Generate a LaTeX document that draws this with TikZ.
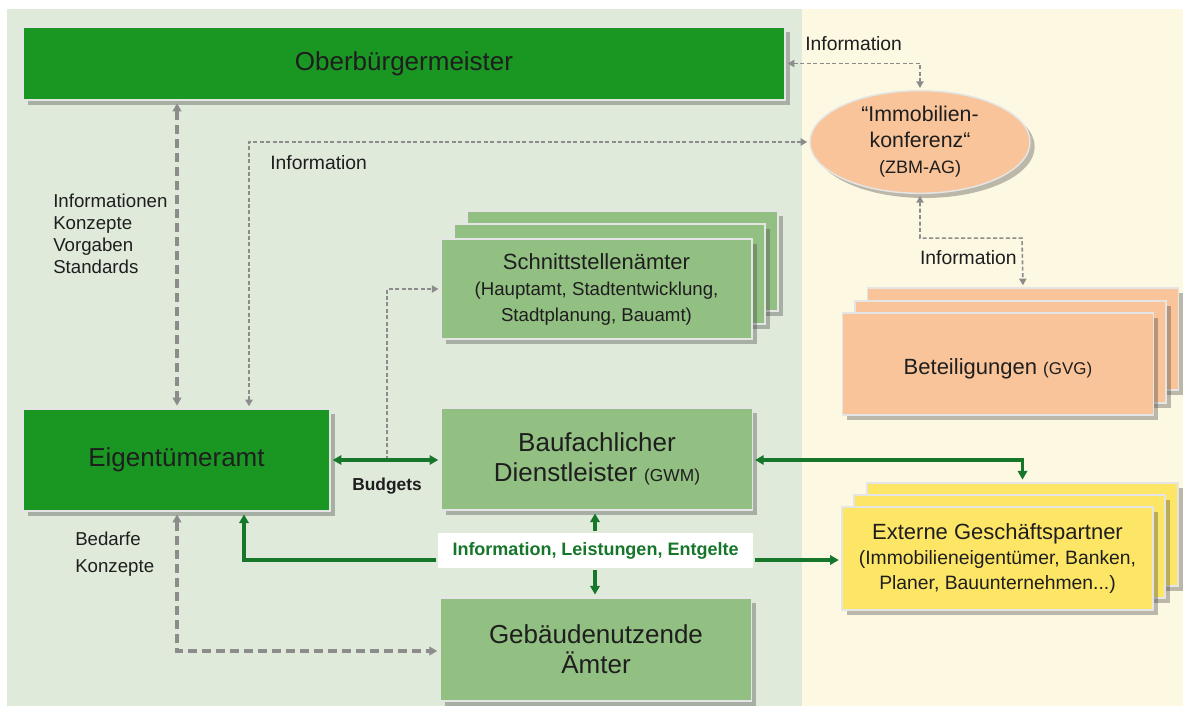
\documentclass[tikz,border=0pt]{standalone}
\usepackage{fontspec}
\setmainfont{Liberation Sans}
\usetikzlibrary{arrows.meta,shadows,shapes.geometric}
\definecolor{bgg}{RGB}{223,234,218}
\definecolor{bgc}{RGB}{253,248,226}
\definecolor{dkg}{RGB}{26,150,34}
\definecolor{ltg}{RGB}{146,191,130}
\definecolor{sal}{RGB}{249,196,153}
\definecolor{yel}{RGB}{253,230,102}
\definecolor{arg}{RGB}{22,118,42}
\definecolor{dgr}{RGB}{140,140,140}
\definecolor{txt}{RGB}{30,30,30}
\newcommand\fbig{\fontsize{19.5}{22.5}\selectfont}
\newcommand\fmid{\fontsize{16.5}{19}\selectfont}
\newcommand\fsub{\fontsize{14}{17}\selectfont}
\newcommand\flab{\fontsize{14}{16.5}\selectfont}
\begin{document}
\begin{tikzpicture}[x=0.75pt,y=-0.75pt,
  box/.style={draw=white!90!black, line width=1.1pt, inner sep=0pt, text=txt, align=center,
     drop shadow={shadow xshift=3.5pt, shadow yshift=-3.5pt, opacity=0.35, fill=black!75}},
  dbox/.style={box, fill=dkg},
  lbox/.style={box, fill=ltg},
  sbox/.style={box, fill=sal},
  ybox/.style={box, fill=yel},
  wide/.style={minimum width=233pt, minimum height=76.5pt},
  thickdash/.style={draw=dgr, line width=3pt, dash pattern=on 7pt off 3.5pt,
     shorten <=2pt, shorten >=2pt},
  thindash/.style={draw=dgr, line width=1.2pt, dash pattern=on 3pt off 1.8pt,
     shorten <=1.5pt, shorten >=1.5pt},
  garrow/.style={draw=arg, line width=2.3pt, shorten <=1.5pt, shorten >=2pt},
  gtip/.style={-{Triangle[length=6.5pt,width=7pt]}},
  gtips/.style={{Triangle[length=6.5pt,width=7pt]}-{Triangle[length=6.5pt,width=7pt]}},
  ttips/.style={{Triangle[length=6pt,width=6.5pt]}-{Triangle[length=6pt,width=6.5pt]}},
  stip/.style={-{Triangle[length=5pt,width=5.5pt]}},
  stips/.style={{Triangle[length=5pt,width=5.5pt]}-{Triangle[length=5pt,width=5.5pt]}},
  lab/.style={text=txt, inner sep=0pt, align=left}
]
\useasboundingbox (0,0) rectangle (1190,713);
\fill[white] (0,0) rectangle (1190,713);
\fill[bgg] (7,9) rectangle (802,706);
\fill[bgc] (802,9) rectangle (1183,706);

% helper x / y positions
\coordinate (x177) at (177,0);
\coordinate (x249) at (249,0);
\coordinate (x387) at (387,0);
\coordinate (x244) at (244,0);
\coordinate (x595) at (595,0);
\coordinate (y560) at (0,560);
\coordinate (y651) at (0,651);

% main boxes
\node[dbox, minimum width=571.5pt, minimum height=54.75pt, font=\fbig] (OB) at (404,63.5) {Oberbürgermeister};
\node[dbox, minimum width=230.25pt, minimum height=76.5pt, font=\fbig] (Eig) at (176.5,460) {Eigentümeramt};
\node[lbox, wide, font=\fbig] (Bau) at (597,459) {Baufachlicher\\Dienstleister {\fontsize{13}{15}\selectfont(GWM)}};
\node[lbox, wide, minimum height=77.25pt, font=\fbig] (Geb) at (596,649.5) {Gebäudenutzende\\Ämter};

% Schnittstellenämter stack
\node[lbox, wide, minimum height=75pt] (sch3) at (622.5,261) {};
\node[lbox, wide, minimum height=75pt] (sch2) at (609.5,274) {};
\node[lbox, wide, minimum height=75pt, font=\fmid] (sch1) at (596.5,289) {Schnittstellenämter\\[1pt]
  \fsub (Hauptamt, Stadtentwicklung,\\ \fsub Stadtplanung, Bauamt)};

% Beteiligungen stack
\node[sbox, wide] (bet3) at (1023,339) {};
\node[sbox, wide] (bet2) at (1010.5,352) {};
\node[sbox, wide, font=\fmid, text height=20pt, text depth=4pt] (bet1) at (998,364) {Beteiligungen {\fontsize{12.75}{15}\selectfont(GVG)}};

% Externe stack
\node[ybox, wide, minimum height=77.25pt] (ext3) at (1022.5,534.5) {};
\node[ybox, wide, minimum height=77.25pt] (ext2) at (1009.5,546.5) {};
\node[ybox, wide, minimum height=77.25pt, font=\fmid] (ext1) at (997.5,558.5) {Externe Geschäftspartner\\
  \fontsize{14.5}{17.5}\selectfont (Immobilieneigentümer, Banken,\\ \fontsize{14.5}{17.5}\selectfont Planer, Bauunternehmen...)};

% ellipse
\node[ellipse, fill=sal, draw=white!90!black, line width=1.1pt, minimum width=165pt, minimum height=77pt,
  inner sep=0pt, align=center, text=txt,
  drop shadow={shadow xshift=3.5pt, shadow yshift=-3.5pt, opacity=0.35, fill=black!75},
  font=\fontsize{16}{19.5}\selectfont] (ell) at (920,142)
  {“Immobilien-\\konferenz“\\ \fontsize{13.5}{19.5}\selectfont (ZBM-AG)};

% green label
\node[fill=white, minimum width=236.25pt, minimum height=26.25pt, inner sep=0pt, text=arg,
  font=\bfseries\fontsize{13.5}{16}\selectfont] (ilab) at (595.5,550.5) {Information, Leistungen, Entgelte};

% text labels
\node[lab, anchor=west, font=\flab] (l1) at (53,233.5) {Informationen\\Konzepte\\Vorgaben\\Standards};
\node[lab, anchor=west, font=\flab] (l2) at (75,554.5) {Bedarfe\\[4pt]Konzepte};
\node[lab, anchor=west, font=\fontsize{14.5}{17}\selectfont] (l3) at (270,163) {Information};
\node[lab, anchor=west, font=\fontsize{14.5}{17}\selectfont] (l4) at (805,44) {Information};
\node[lab, anchor=east, font=\fontsize{14.5}{17}\selectfont] (l5) at (1017,258) {Information};
\node[lab, font=\bfseries\fontsize{13}{15}\selectfont] (l6) at (387,486) {Budgets};

% gray dashed connectors
\draw[thickdash, ttips] (OB.south -| x177) -- (Eig.north -| x177);
\draw[thickdash, ttips] (Eig.south -| x177) |- (Geb.west |- y651);
\draw[thindash, stips] (Eig.north -| x249) |- (ell.west);
\draw[thindash, stips] (OB.east) -| (ell.north);
\draw[thindash, stips] (ell.south) |- ++(102,44) -- (bet3.north);
\draw[thindash, stip, shorten <=0pt] (x387 |- Eig.east) |- (sch1.west);

% green connectors
\draw[garrow, gtips] (Eig.east) -- (Eig.east -| Bau.west);
\draw[garrow, gtip] (ilab.north -| x595) -- (Bau.south -| x595);
\draw[garrow, gtip] (ilab.south -| x595) -- (Geb.north -| x595);
\draw[garrow, gtip] (ilab.west |- y560) -| (Eig.south -| x244);
\draw[garrow, gtip] (ilab.east |- y560) -- (ext1.west |- y560);
\draw[garrow, gtips] (Bau.east |- Eig.east) -| (ext3.north);
\end{tikzpicture}
\end{document}
